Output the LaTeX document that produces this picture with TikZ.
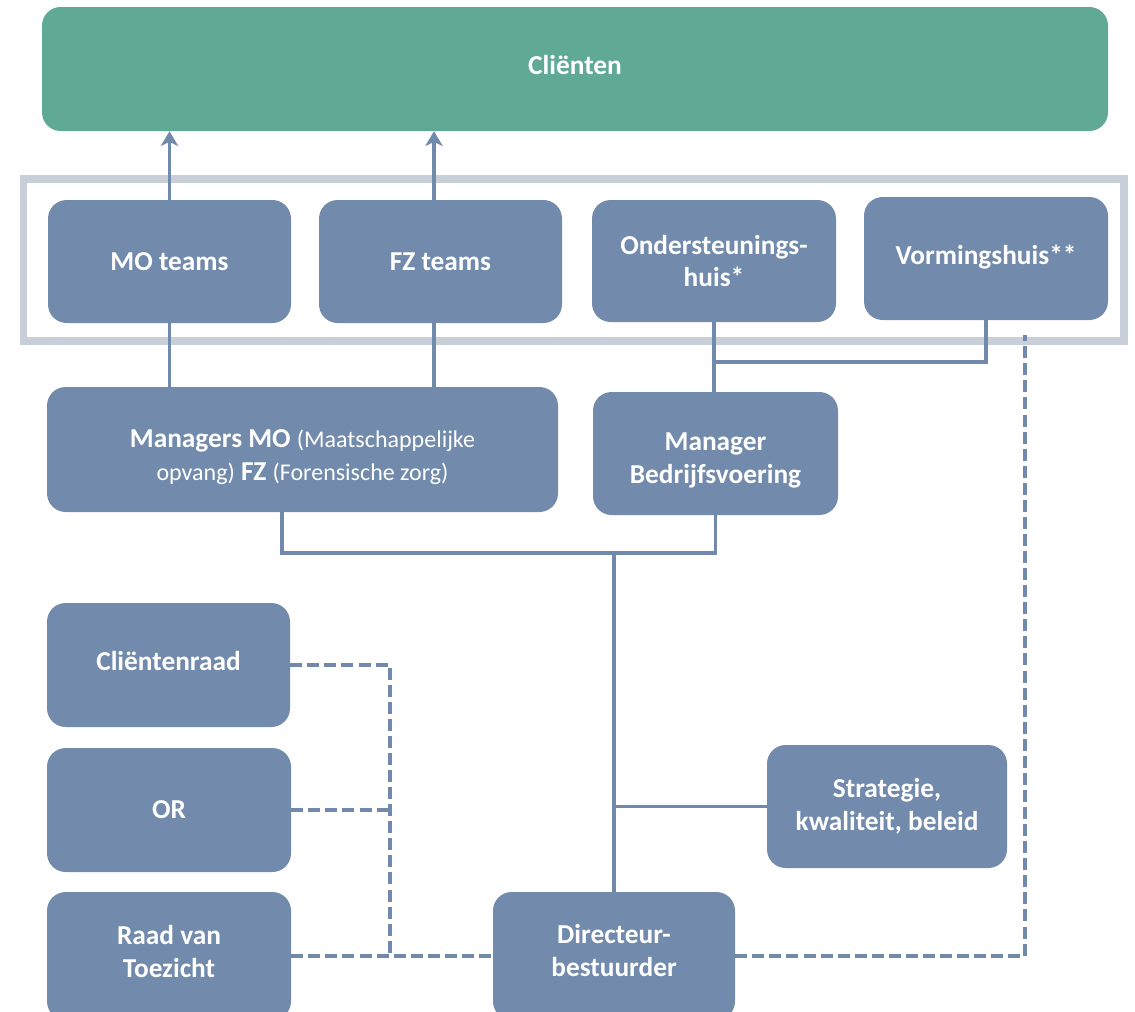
\documentclass[tikz,border=0pt]{standalone}
\usepackage{fontspec}
\setmainfont{Carlito}
\usetikzlibrary{arrows.meta,calc}
\definecolor{boxc}{HTML}{728AAB}
\definecolor{linec}{HTML}{7189AA}
\definecolor{greenc}{HTML}{5FA995}
\definecolor{framec}{HTML}{C9CFD9}
\newcommand{\smallreg}[1]{{\mdseries\fontsize{18}{24.5}\selectfont #1}}
\newcommand{\lines}[1]{\begin{tabular}{@{}c@{}}#1\end{tabular}}
% adjust the vertical placement of a node's text by padding its box
\newcommand{\txtdown}[2]{\raisebox{0pt}[\dimexpr\height+#1\relax][\depth]{\lines{#2}}}
\newcommand{\txtup}[2]{\raisebox{0pt}[\height][\dimexpr\depth+#1\relax]{\lines{#2}}}
\begin{document}
\begin{tikzpicture}[x=0.75pt,y=-0.75pt,
  box/.style={fill=boxc, rounded corners=14pt, text=white,
    font=\bfseries\fontsize{20.5}{24.5}\selectfont, align=center, inner sep=0pt},
  sz/.style 2 args={minimum width=#1*0.75pt, minimum height=#2*0.75pt},
  conn/.style={draw=linec, line width=2.3pt},
  arr/.style={conn, -{Stealth[length=11pt,width=13pt,inset=3pt]}},
  dsh/.style={draw=linec, line width=2.8pt, dash pattern=on 9pt off 3.8pt}]
\useasboundingbox (0,0) rectangle (1135,1011);
\clip (0,0) rectangle (1135,1011);

% top client box
\node[box, fill=greenc, sz={1066}{124}] (cl) at (575,69) {\txtup{2pt}{Cliënten}};

% frame around the teams
\draw[framec, line width=5.5pt] (23.5,179) rectangle (1124,341);

% team row
\node[box, sz={243}{123}] (mo) at (169.5,261.5) {MO teams};
\node[box, sz={243}{123}] (fz) at (440.5,261.5) {FZ teams};
\node[box, sz={244}{122}] (ond) at (714,261) {Ondersteunings-\\huis*};
\node[box, sz={244}{123}] (vorm) at (986,258.5) {\txtup{1pt}{Vormingshuis**}};

% managers
\node[box, sz={511}{125}] (mgr) at (302.5,449.5)
  {\txtdown{12pt}{Managers MO \smallreg{(Maatschappelijke}\\
   \smallreg{opvang)} FZ \smallreg{(Forensische zorg)}}};
\node[box, sz={245}{123}] (mb) at (715.5,453.5) {\txtdown{10.5pt}{Manager\\Bedrijfsvoering}};

% left column
\node[box, sz={243}{124}] (cr) at (168.5,665) {\txtup{2pt}{Cliëntenraad}};
\node[box, sz={244}{124}] (or) at (169,810) {OR};
\node[box, sz={244}{128}] (rvt) at (169,956) {\txtup{2.7pt}{Raad van\\Toezicht}};

% strategie and director
\node[box, sz={240}{123}] (str) at (887,806.5) {Strategie,\\kwaliteit, beleid};
\node[box, sz={242}{128}] (dir) at (614,956) {\txtup{4.2pt}{Directeur-\\bestuurder}};

% helper coordinates
\coordinate (fzx) at (434,0);
\coordinate (j1) at (714,362);
\coordinate (bus) at (282,553);
\coordinate (dv) at (390,0);
\coordinate (dtop) at (1025,335);

% arrows up to clients
\draw[arr] (mo.north) -- (mo.north |- cl.south);
\draw[arr] (fzx |- fz.north) -- (fzx |- cl.south);

% solid connectors
\draw[conn] (mo.south) -- (mo.south |- mgr.north);
\draw[conn] (fzx |- fz.south) -- (fzx |- mgr.north);
\draw[conn] (ond.south) -- (ond.south |- mb.north);
\draw[conn] (vorm.south) |- (j1);
\draw[conn] (mgr.south -| bus) -- (bus) -| (mb.south);
\draw[conn] (dir.north) -- (dir.north |- bus);
\draw[conn] (str.west) -- (str.west -| dir.north);

% dashed connectors
\draw[dsh] (cr.east) -| (dv |- rvt.east);
\draw[dsh] (or.east) -- (or.east -| dv);
\draw[dsh] (rvt.east) -- (dir.west);
\draw[dsh] (dir.east) -| (dtop);
\end{tikzpicture}
\end{document}
